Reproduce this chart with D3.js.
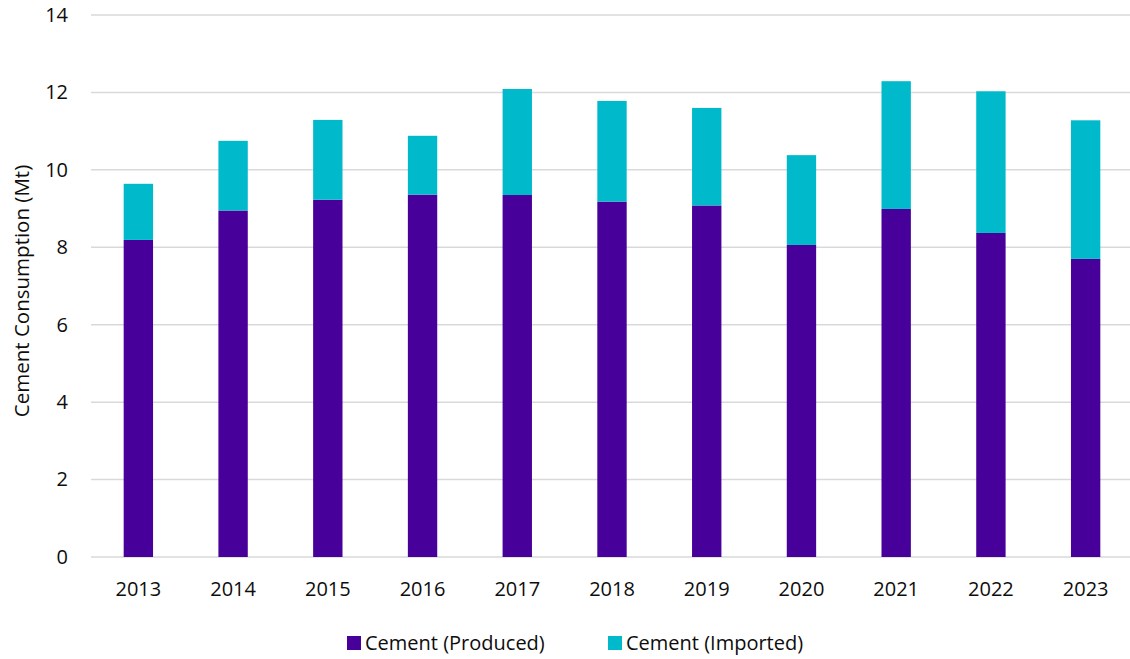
<!DOCTYPE html>
<html>
<head>
<meta charset="utf-8">
<script src="https://cdn.jsdelivr.net/npm/d3@7"></script>
<style>
  html, body { margin: 0; padding: 0; background: #fff; }
  svg { display: block; font-family: "Open Sans", "Noto Sans", sans-serif; }
</style>
</head>
<body>
<svg id="chart" width="1130" height="659"></svg>
<script>
// Annual cement consumption, million tonnes
const years = ["2013", "2014", "2015", "2016", "2017", "2018", "2019", "2020", "2021", "2022", "2023"];
const produced = [8.19, 8.95, 9.23, 9.36, 9.35, 9.18, 9.08, 8.06, 8.99, 8.37, 7.70];
const imported = [1.45, 1.80, 2.06, 1.52, 2.74, 2.60, 2.52, 2.32, 3.30, 3.66, 3.58];
const yTicks = [0, 2, 4, 6, 8, 10, 12, 14];
const seriesNames = ["Cement (Produced)", "Cement (Imported)"];
const seriesColors = ["#47009a", "#00bacc"];

const svg = d3.select("#chart");

const x = d3.scaleBand()
  .domain(years)
  .range([91, 1133])
  .paddingInner(0.69)
  .paddingOuter(0.345);

const y = d3.scaleLinear().domain([0, 14]).range([557, 15]);

// Horizontal gridlines
svg.append("g")
  .selectAll("line")
  .data(yTicks)
  .join("line")
  .attr("x1", 91)
  .attr("x2", 1130)
  .attr("y1", d => y(d))
  .attr("y2", d => y(d))
  .attr("stroke", "#d9d9d9")
  .attr("stroke-width", 1.5);

// Y axis labels
const yAxis = d3.axisLeft(y).tickValues(yTicks).tickSize(0).tickPadding(0);
const yg = svg.append("g").attr("transform", "translate(68,0)").call(yAxis);
yg.select(".domain").remove();
yg.selectAll("text")
  .attr("font-size", 20)
  .attr("font-family", "'Open Sans', sans-serif")
  .attr("fill", "#0d0d0d");

// X axis labels
const xAxis = d3.axisBottom(x).tickSize(0).tickPadding(0);
const xg = svg.append("g").attr("transform", "translate(0,582)").call(xAxis);
xg.select(".domain").remove();
xg.selectAll("text")
  .attr("font-size", 20)
  .attr("font-family", "'Open Sans', sans-serif")
  .attr("fill", "#0d0d0d");

// Stacked bars
const rows = years.map((yr, i) => ({ year: yr, produced: produced[i], imported: imported[i] }));
const stack = d3.stack().keys(["produced", "imported"]);
const layers = stack(rows);

svg.append("g")
  .selectAll("g")
  .data(layers)
  .join("g")
  .attr("fill", (d, i) => seriesColors[i])
  .selectAll("rect")
  .data(d => d)
  .join("rect")
  .attr("x", d => x(d.data.year))
  .attr("width", x.bandwidth())
  .attr("y", d => y(d[1]))
  .attr("height", d => y(d[0]) - y(d[1]));

// Axis title
svg.append("text")
  .attr("transform", "translate(29,291) rotate(-90)")
  .attr("text-anchor", "middle")
  .attr("font-size", 20.5)
  .attr("fill", "#0d0d0d")
  .text("Cement Consumption (Mt)");

// Legend
const legendItems = [{ x: 347 }, { x: 608 }];
const lg = svg.append("g");
legendItems.forEach((it, i) => {
  lg.append("rect")
    .attr("x", it.x)
    .attr("y", 636)
    .attr("width", 14)
    .attr("height", 14)
    .attr("fill", seriesColors[i]);
  lg.append("text")
    .attr("x", it.x + 18)
    .attr("y", 650)
    .attr("font-size", 20)
    .attr("fill", "#0d0d0d")
    .text(seriesNames[i]);
});
</script>
</body>
</html>
